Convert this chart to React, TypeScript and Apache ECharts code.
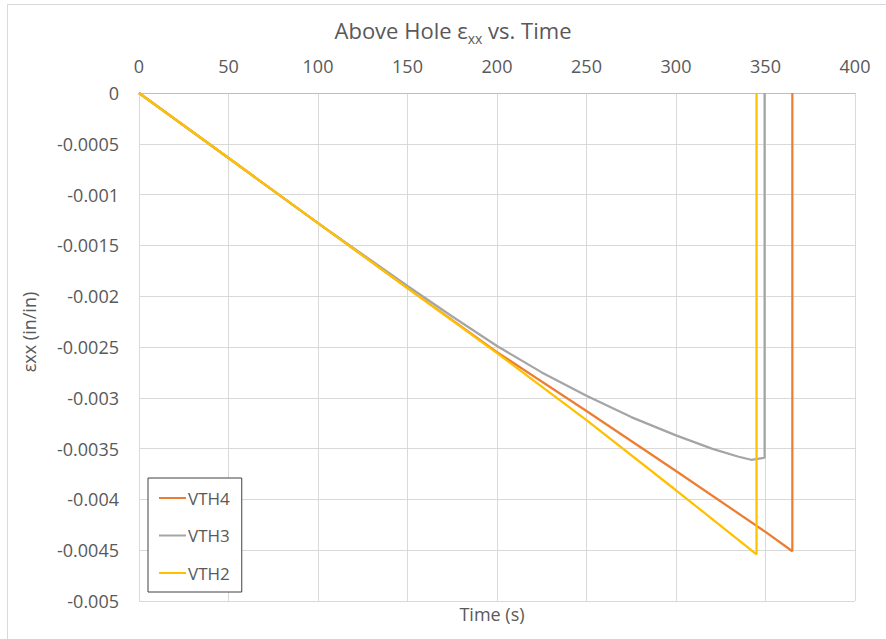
import React, { useEffect, useRef } from "react";
import * as echarts from "echarts";

const seriesNames = ["VTH4", "VTH3", "VTH2"];
const seriesColors = ["#ED7D31", "#A5A5A5", "#FFC000"];

const vth4: [number, number][] = [
  [0, 0], [25, -0.00032], [50, -0.00064], [75, -0.00096], [100, -0.00128],
  [150, -0.00192], [200, -0.00255], [250, -0.00313], [300, -0.00372],
  [350, -0.00432], [365, -0.00451], [365, 0],
];
const vth3: [number, number][] = [
  [0, 0], [50, -0.00064], [100, -0.00128], [150, -0.0019], [175, -0.0022],
  [200, -0.00249], [225, -0.00275], [250, -0.00298], [275, -0.00319],
  [300, -0.00337], [320, -0.0035], [335, -0.00358], [342, -0.00361],
  [349.5, -0.00359], [349.5, 0],
];
const vth2: [number, number][] = [
  [0, 0], [50, -0.00064], [100, -0.00128], [150, -0.00192], [200, -0.00256],
  [250, -0.00322], [300, -0.00391], [345, -0.00454], [345, 0],
];
const seriesData = [vth4, vth3, vth2];

const titleText = "Above Hole ε{sub|xx} vs. Time";
const xAxisName = "Time (s)";
const yAxisName = "εxx (in/in)";

const FONT = "'Open Sans', sans-serif";
const TXT = "#595959";

export default function App() {
  const ref = useRef<HTMLDivElement>(null);
  useEffect(() => {
    if (!ref.current) return;
    const chart = echarts.init(ref.current, null, { renderer: "svg" });
    chart.setOption({
      animation: false,
      backgroundColor: "#ffffff",
      textStyle: { fontFamily: FONT },
      grid: { left: 139, top: 93, width: 716, height: 508, containLabel: false },
      xAxis: {
        type: "value",
        position: "top",
        min: 0,
        max: 400,
        interval: 50,
        axisLine: { show: true, onZero: false, lineStyle: { color: "#BFBFBF", width: 1 } },
        axisTick: { show: false },
        axisLabel: { color: TXT, fontSize: 18, fontFamily: FONT, margin: 18 },
        splitLine: { show: true, lineStyle: { color: "#D9D9D9", width: 1 } },
      },
      yAxis: {
        type: "value",
        min: -0.005,
        max: 0,
        interval: 0.0005,
        axisLine: { show: true, lineStyle: { color: "#D9D9D9", width: 1 } },
        axisTick: { show: false },
        axisLabel: {
          color: TXT,
          fontSize: 18,
          fontFamily: FONT,
          margin: 20,
          formatter: (v: number) => String(Number(v.toFixed(5))),
        },
        splitLine: { show: true, lineStyle: { color: "#D9D9D9", width: 1 } },
      },
      legend: {
        data: seriesNames,
        orient: "vertical",
        left: 148,
        top: 478,
        padding: [10, 12, 9, 11],
        itemWidth: 27,
        itemHeight: 2,
        itemGap: 17.5,
        icon: "rect",
        borderColor: "#404040",
        borderWidth: 1,
        backgroundColor: "#ffffff",
        textStyle: { color: TXT, fontSize: 17, fontFamily: FONT, lineHeight: 20, padding: [0, 0, 0, -3] },
      },
      graphic: [
        {
          type: "rect",
          shape: { x: 7.5, y: 4.5, width: 900, height: 700 },
          style: { fill: "none", stroke: "#D9D9D9", lineWidth: 1 },
          silent: true,
          z: -10,
        },
        {
          type: "text",
          x: 453,
          y: 30,
          style: {
            text: titleText,
            fill: TXT,
            fontSize: 22,
            fontFamily: FONT,
            align: "center",
            verticalAlign: "middle",
            lineHeight: 30,
            rich: {
              sub: { fontSize: 14, fontFamily: FONT, fill: TXT, lineHeight: 17, verticalAlign: "bottom" },
            },
          },
        },
        {
          type: "text",
          x: 492,
          y: 614,
          style: {
            text: xAxisName,
            fill: TXT,
            fontSize: 18,
            fontFamily: FONT,
            align: "center",
            verticalAlign: "middle",
          },
        },
        {
          type: "text",
          x: 29,
          y: 332,
          rotation: Math.PI / 2,
          style: {
            text: yAxisName,
            fill: TXT,
            fontSize: 18,
            fontFamily: FONT,
            align: "center",
            verticalAlign: "middle",
          },
        },
      ],
      series: seriesNames.map((name, i) => ({
        name,
        type: "line",
        data: seriesData[i],
        showSymbol: false,
        symbol: "none",
        color: seriesColors[i],
        lineStyle: { color: seriesColors[i], width: 2.25 },
        z: 2 + i,
      })),
    });
    return () => chart.dispose();
  }, []);
  return (
    <div
      ref={ref}
      style={{ position: "fixed", left: 0, top: 0, width: 886, height: 639 }}
    />
  );
}
